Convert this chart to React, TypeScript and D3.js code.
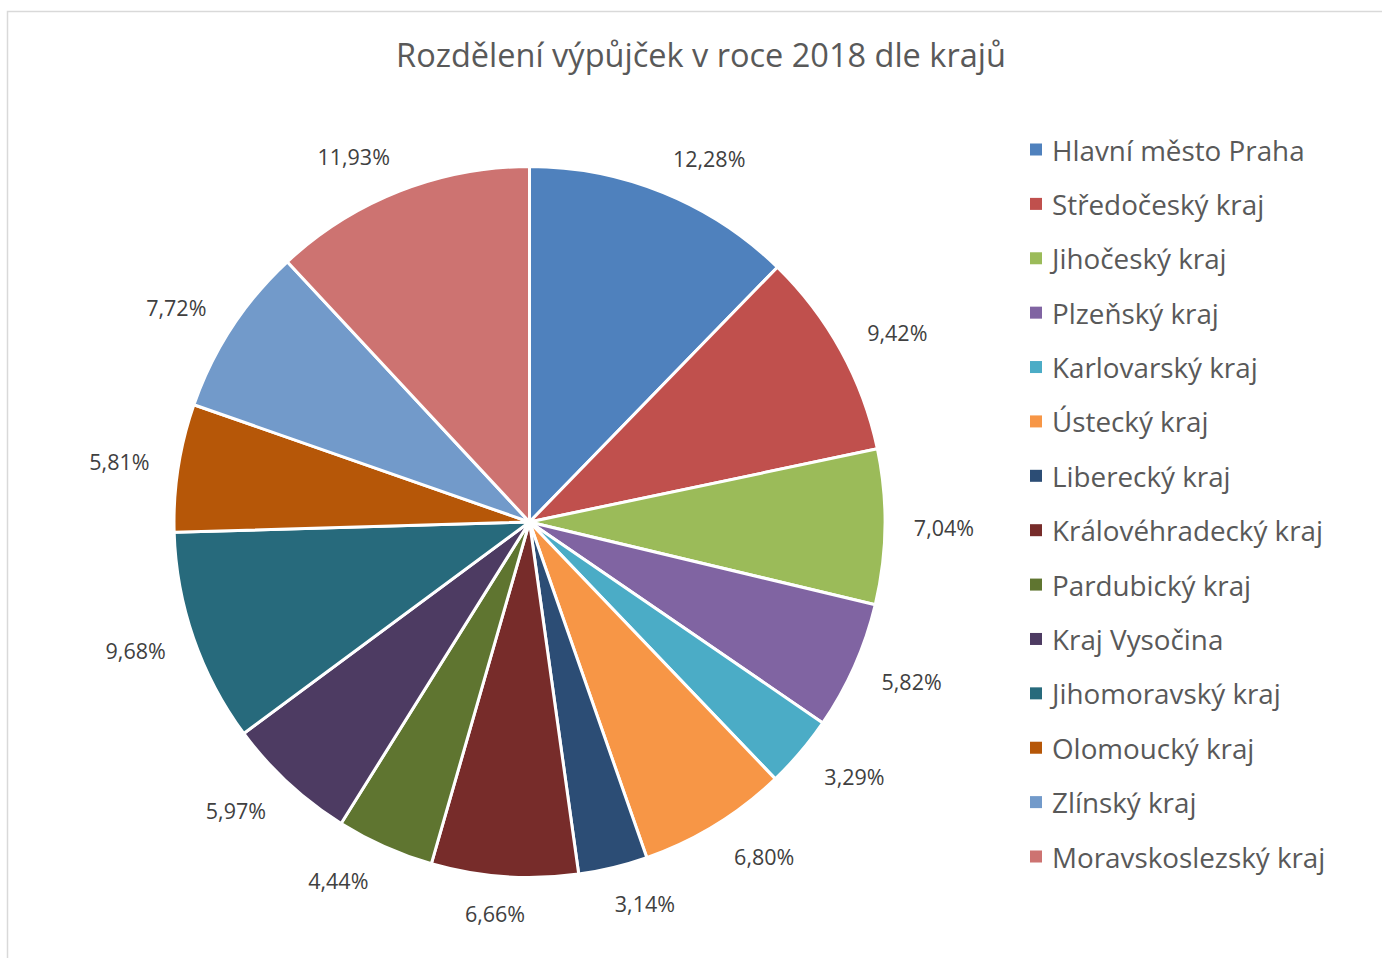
import React from "react";
import * as d3 from "d3";

const categories = [
  "Hlavní město Praha",
  "Středočeský kraj",
  "Jihočeský kraj",
  "Plzeňský kraj",
  "Karlovarský kraj",
  "Ústecký kraj",
  "Liberecký kraj",
  "Královéhradecký kraj",
  "Pardubický kraj",
  "Kraj Vysočina",
  "Jihomoravský kraj",
  "Olomoucký kraj",
  "Zlínský kraj",
  "Moravskoslezský kraj",
];

const shares = [12.28, 9.42, 7.04, 5.82, 3.29, 6.8, 3.14, 6.66, 4.44, 5.97, 9.68, 5.81, 7.72, 11.93];

const colors = [
  "#4F81BD", "#C0504D", "#9BBB59", "#8064A2", "#4BACC6", "#F79646", "#2C4D75",
  "#772C2A", "#5F7530", "#4D3B62", "#276A7C", "#B65708", "#729ACA", "#CD7371",
];

const title = "Rozdělení výpůjček v roce 2018 dle krajů";

const W = 1382;
const H = 958;
const FONT = "'Open Sans', 'Noto Sans', sans-serif";

export default function App() {
  const cx = 529.5;
  const cy = 522;
  const r = 355.5;
  const data = categories.map((c, i) => ({ name: c, value: shares[i], color: colors[i] }));
  const pie = d3.pie<any>().value((d) => d.value).sort(null);
  const arcs = pie(data);
  const arc = d3.arc<any>().innerRadius(0).outerRadius(r);
  const fmt = (v: number) => v.toFixed(2).replace(".", ",") + "%";

  const legendY = d3.scaleLinear().domain([0, categories.length - 1]).range([149.5, 856.5]);

  return (
    <svg
      width={W}
      height={H}
      style={{ position: "absolute", left: 0, top: 0, background: "#fff" }}
      fontFamily={FONT}
    >
      <rect x={7.5} y={11.5} width={W} height={H} fill="#fff" stroke="#D9D9D9" strokeWidth={1.5} />
      <text x={701} y={54} textAnchor="middle" dominantBaseline="central" fontSize={32.5} fill="#595959">
        {title}
      </text>
      <g transform={`translate(${cx},${cy})`}>
        {arcs.map((a, i) => (
          <path key={i} d={arc(a) as string} fill={a.data.color} stroke="#fff" strokeWidth={3} strokeLinejoin="round" />
        ))}
        {arcs.map((a, i) => {
          const mid = (a.startAngle + a.endAngle) / 2;
          const s = Math.sin(mid);
          const c = Math.cos(mid);
          const px = (r + 21) * s;
          const py = -(r + 27) * c;
          const hw = 38;
          const hh = 10;
          const k = Math.max(-1, Math.min(1, s * 3));
          const x = px + hw * k;
          const y = py - c * hh;
          return (
            <text key={"l" + i} x={x} y={y} textAnchor="middle" dominantBaseline="central" fontSize={21.5} fill="#404040">
              {fmt(a.data.value)}
            </text>
          );
        })}
      </g>
      <g>
        {data.map((d, i) => (
          <g key={i} transform={`translate(1030,${legendY(i)})`}>
            <rect x={0} y={-6} width={12} height={12} fill={d.color} />
            <text x={22} y={0} dominantBaseline="central" fontSize={27.8} fill="#595959">
              {d.name}
            </text>
          </g>
        ))}
      </g>
    </svg>
  );
}
